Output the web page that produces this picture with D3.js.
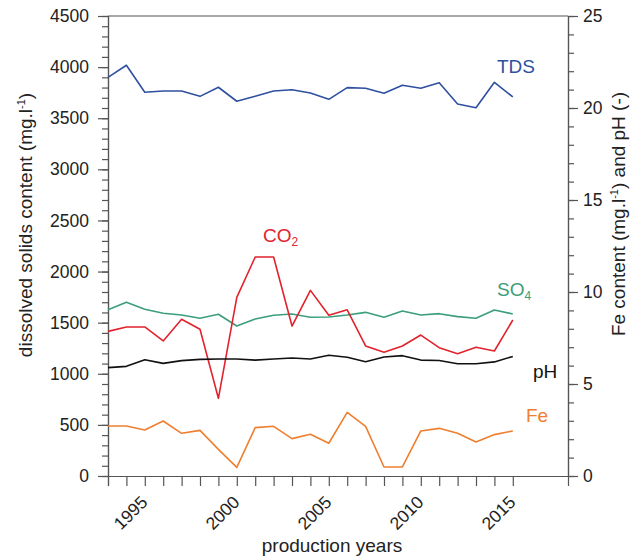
<!DOCTYPE html>
<html>
<head>
<meta charset="utf-8">
<script src="https://cdn.jsdelivr.net/npm/d3@7"></script>
<style>
  body { margin: 0; background: #fff; }
  text { font-family: "Liberation Sans", Arial, sans-serif; }
</style>
</head>
<body>
<div id="chart"></div>
<script>
// production years
const years = [1993, 1994, 1995, 1996, 1997, 1998, 1999, 2000, 2001, 2002, 2003, 2004,
  2005, 2006, 2007, 2008, 2009, 2010, 2011, 2012, 2013, 2014, 2015];
const yearLabels = [1995, 2000, 2005, 2010, 2015];

// left axis series (mg/l)
const tds = [3900, 4018, 3754, 3766, 3766, 3714, 3803, 3666, 3714, 3766, 3779, 3747,
  3685, 3799, 3793, 3744, 3822, 3793, 3848, 3639, 3603, 3851, 3708];
const so4 = [1627, 1699, 1631, 1592, 1575, 1543, 1582, 1467, 1536, 1572, 1585, 1553,
  1556, 1575, 1601, 1553, 1614, 1575, 1588, 1559, 1543, 1624, 1585];
const co2 = [1415, 1458, 1458, 1321, 1533, 1435, 760, 1748, 2142, 2142, 1467, 1816,
  1572, 1626, 1272, 1210, 1272, 1379, 1255, 1197, 1259, 1223, 1526];

// right axis series
const ph = [5.89, 5.96, 6.32, 6.12, 6.27, 6.34, 6.36, 6.36, 6.30, 6.36, 6.41, 6.36,
  6.56, 6.45, 6.21, 6.47, 6.54, 6.30, 6.28, 6.10, 6.10, 6.20, 6.50];
const fe = [2.72, 2.72, 2.50, 2.99, 2.32, 2.48, 1.45, 0.47, 2.63, 2.70, 2.03, 2.27,
  1.78, 3.46, 2.70, 0.49, 0.49, 2.45, 2.59, 2.32, 1.85, 2.25, 2.45];

const leftTicks = [0, 500, 1000, 1500, 2000, 2500, 3000, 3500, 4000, 4500];
const rightTicks = [0, 5, 10, 15, 20, 25];

const width = 641, height = 560;
const margin = { top: 16, right: 73, bottom: 84, left: 108 };
const axisColor = "#555";

const svg = d3.select("#chart").append("svg")
  .attr("width", width)
  .attr("height", height);

const x = d3.scaleLinear().domain([1993, 2018]).range([margin.left, width - margin.right]);
const yL = d3.scaleLinear().domain([0, 4500]).range([height - margin.bottom, margin.top]);
const yR = d3.scaleLinear().domain([0, 25]).range([height - margin.bottom, margin.top]);

/* axes */
function styleAxis(g) {
  g.selectAll("path, line").attr("stroke", axisColor).attr("stroke-width", 1.2);
  g.selectAll("text").attr("fill", "#222").style("font-size", "17.5px");
}

// left minor + major
svg.append("g")
  .attr("transform", `translate(${margin.left},0)`)
  .call(d3.axisLeft(yL).tickValues(d3.range(0, 4501, 100)).tickSize(6).tickFormat(""))
  .call(styleAxis);
svg.append("g")
  .attr("transform", `translate(${margin.left},0)`)
  .call(d3.axisLeft(yL).tickValues(leftTicks).tickSize(10).tickPadding(9).tickFormat(d3.format("d")))
  .call(styleAxis);

// right minor + major
svg.append("g")
  .attr("transform", `translate(${width - margin.right},0)`)
  .call(d3.axisRight(yR).tickValues(d3.range(0, 26, 1)).tickSize(6).tickFormat(""))
  .call(styleAxis);
svg.append("g")
  .attr("transform", `translate(${width - margin.right},0)`)
  .call(d3.axisRight(yR).tickValues(rightTicks).tickSize(10).tickPadding(5))
  .call(styleAxis);

// bottom
const xAxis = svg.append("g")
  .attr("transform", `translate(0,${height - margin.bottom})`)
  .call(d3.axisBottom(x).tickValues(years).tickSize(10)
    .tickFormat(d => yearLabels.includes(d) ? d : ""))
  .call(styleAxis);
xAxis.selectAll("text")
  .attr("y", 0).attr("x", 0)
  .attr("dy", "0.35em")
  .attr("text-anchor", "end")
  .attr("transform", "translate(-1,23) rotate(-45)");

// top frame
svg.append("line")
  .attr("x1", margin.left).attr("x2", width - margin.right)
  .attr("y1", margin.top).attr("y2", margin.top)
  .attr("stroke", axisColor).attr("stroke-width", 1.2);

/* lines */
const series = [
  { values: tds, scale: yL, color: "#2f50a0" },
  { values: so4, scale: yL, color: "#3c9e7a" },
  { values: co2, scale: yL, color: "#e2222c" },
  { values: ph, scale: yR, color: "#111" },
  { values: fe, scale: yR, color: "#ef7f30" }
];
series.forEach(s => {
  const line = d3.line()
    .x((d, i) => x(years[i]))
    .y(d => s.scale(d));
  svg.append("path")
    .attr("fill", "none")
    .attr("stroke", s.color)
    .attr("stroke-width", 1.6)
    .attr("stroke-linejoin", "round")
    .attr("d", line(s.values));
});

/* series labels */
function label(px, py, txt, sub, color) {
  const t = svg.append("text")
    .attr("x", px).attr("y", py)
    .attr("fill", color)
    .style("font-size", "19px")
    .text(txt);
  if (sub) {
    t.append("tspan").attr("dy", 4).style("font-size", "12px").text(sub);
  }
}
label(497, 73, "TDS", null, "#2f50a0");
label(263, 242, "CO", "2", "#e2222c");
label(497, 296, "SO", "4", "#3c9e7a");
label(533, 378, "pH", null, "#111");
label(526, 422, "Fe", null, "#ef7f30");

/* axis titles */
const lt = svg.append("text")
  .attr("transform", "translate(32,225) rotate(-90)")
  .attr("text-anchor", "middle")
  .attr("fill", "#222")
  .style("font-size", "19px")
  .text("dissolved solids content (mg.l");
lt.append("tspan").attr("dy", -7).style("font-size", "11px").text("-1");
lt.append("tspan").attr("dy", 7).text(")");

const rt = svg.append("text")
  .attr("transform", "translate(625,214) rotate(-90)")
  .attr("text-anchor", "middle")
  .attr("fill", "#222")
  .style("font-size", "19px")
  .text("Fe content (mg.l");
rt.append("tspan").attr("dy", -7).style("font-size", "11px").text("-1");
rt.append("tspan").attr("dy", 7).text(") and pH (-)");

svg.append("text")
  .attr("x", 332).attr("y", 552)
  .attr("text-anchor", "middle")
  .attr("fill", "#222")
  .style("font-size", "19px")
  .text("production years");
</script>
</body>
</html>
